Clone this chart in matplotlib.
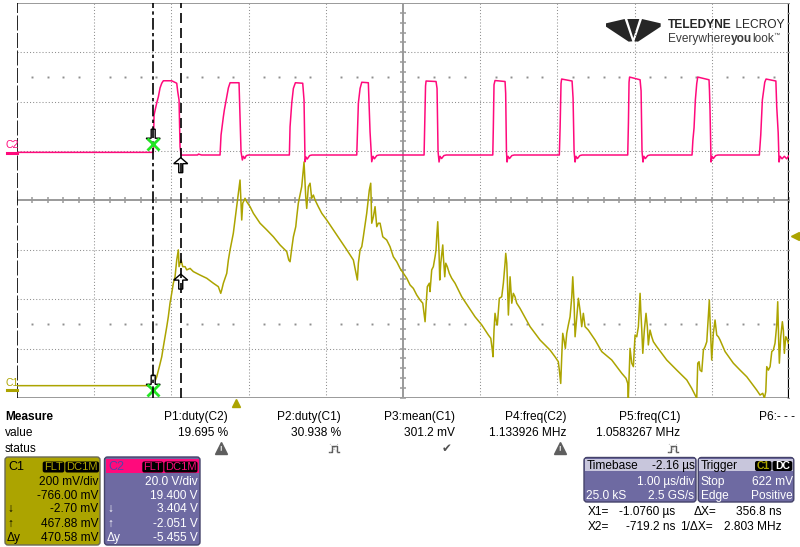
import numpy as np
import matplotlib
matplotlib.use("Agg")
import matplotlib.pyplot as plt
from matplotlib import transforms
from matplotlib.patches import Polygon, FancyBboxPatch, Rectangle
from matplotlib.lines import Line2D

plt.rcParams['font.family'] = ['Liberation Sans', 'DejaVu Sans']

# scope settings
t_div = 1.0          # us/div
t_delay = -2.16      # us
c1_vdiv, c1_offset = 0.2, -0.766
c2_vdiv, c2_offset = 20.0, 19.4
trig_level = 0.622
x1_cur, x2_cur = -1.0760, -0.7192
c1_x1, c1_x2 = -0.00270, 0.46788
c2_x1, c2_x2 = 3.404, -2.051

# C2 (pink) - time us, volts
c2_t = [-2.84, -1.078, -1.074, -1.065, -1.030, -1.009, -0.987, -0.965, -0.944, -0.836, -0.771, -0.758,
        -0.741, -0.728, -0.715, -0.50, -0.49, -0.45,
        -0.210, -0.197, -0.167, -0.154, -0.123, -0.102, -0.080, 0.036, 0.049, 0.062, 0.079, 0.092, 0.11, 0.13, 0.16,
        0.688, 0.697, 0.719, 0.740, 0.766, 0.861, 0.878, 0.891, 0.904, 0.92, 0.95, 0.98,
        1.561, 1.570, 1.582, 1.604, 1.626, 1.711, 1.733, 1.755, 1.772, 1.79, 1.82, 1.85,
        2.433, 2.440, 2.452, 2.459, 2.588, 2.601, 2.614, 2.627, 2.640, 2.66, 2.69, 2.72,
        3.323, 3.330, 3.339, 3.352, 3.482, 3.490, 3.500, 3.508, 3.52, 3.54, 3.57, 3.60,
        4.185, 4.195, 4.207, 4.215, 4.350, 4.363, 4.376, 4.389, 4.40, 4.42, 4.45, 4.48,
        5.071, 5.080, 5.088, 5.095, 5.231, 5.244, 5.256, 5.269, 5.28, 5.30, 5.33, 5.36,
        5.904, 5.915, 5.930, 5.947, 5.965, 5.978, 6.124, 6.130, 6.137, 6.150, 6.163, 6.18, 6.21, 6.24,
        6.776, 6.794, 6.815, 6.846, 6.863, 6.99, 7.001, 7.020, 7.031, 7.044, 7.07, 7.10, 7.13, 7.161]
c2_v = [0.1, 0.1, 0.4, 15.2, 20.1, 22.6, 26.2, 28.1, 29.1, 29.1, 28.1, 24.7,
        21.3, 2.4, -1.0, -0.97, -0.6, -0.97,
        -0.97, 7.1, 14.5, 17.3, 22.6, 26.2, 28.3, 28.3, 14.5, 0.36, -3.0, -1.5, -2.4, -1.2, -0.97,
        -0.97, 10.5, 20.1, 26.0, 28.3, 28.1, 21.3, -3.7, -1.8, -2.6, -1.2, -0.97,
        -0.97, 8.5, 20.1, 26.0, 28.5, 28.3, 8.5, -3.7, -1.5, -2.5, -1.2, -0.97,
        -0.97, 10.0, 27.0, 29.0, 28.8, 26.0, 0.5, -3.8, -1.5, -2.4, -1.2, -0.97,
        -0.97, 10.0, 27.5, 29.2, 28.8, 24.0, 0.5, -3.8, -1.5, -2.4, -1.2, -0.97,
        -0.97, 10.0, 28.0, 29.8, 29.0, 22.0, 0.5, -3.8, -1.5, -2.4, -1.2, -0.97,
        -0.97, 12.0, 28.5, 30.6, 29.5, 25.0, 0.5, -3.8, -1.5, -2.4, -1.2, -0.97,
        -0.97, 5.0, 10.0, 21.3, 28.0, 30.6, 29.5, 25.0, 17.3, -3.8, -1.5, -2.4, -1.2, -0.97,
        -0.97, 7.1, 21.3, 28.5, 29.8, 29.0, 18.6, 8.0, -3.8, -1.5, -2.5, -1.5, -2.5, -1.2]

# C1 (olive) - time us, volts
c1_t = [-2.84, -1.074, -1.030, -0.996, -0.965, -0.944, -0.922, -0.900, -0.880, -0.858, -0.836, -0.815,
        -0.793, -0.771, -0.750, -0.741, -0.728, -0.715, -0.693, -0.663, -0.641, -0.598, -0.556, -0.469,
        -0.382, -0.297, -0.232, -0.201, -0.188, -0.167, -0.123, -0.102, -0.080, -0.038, 0.006, 0.027,
        0.049, 0.071, 0.084, 0.114, 0.136, 0.179, 0.222, 0.308, 0.395, 0.481, 0.567, 0.654,
        0.680, 0.697, 0.719, 0.740, 0.771, 0.784, 0.804, 0.848, 0.878, 0.900, 0.913, 0.934,
        0.956, 0.977, 0.999, 1.021, 1.063, 1.108, 1.172, 1.258, 1.345, 1.432, 1.517, 1.552,
        1.569, 1.582, 1.604, 1.626, 1.646, 1.690, 1.724, 1.742, 1.755, 1.776, 1.798, 1.820,
        1.841, 1.863, 1.898, 1.949, 1.992, 2.035, 2.079, 2.122, 2.165, 2.209, 2.251, 2.294,
        2.338, 2.381, 2.416, 2.433, 2.446, 2.459, 2.475, 2.501, 2.510, 2.532, 2.553, 2.575,
        2.588, 2.597, 2.610, 2.627, 2.636, 2.649, 2.675, 2.683, 2.701, 2.714, 2.734, 2.760,
        2.791, 2.834, 2.921, 3.006, 3.093, 3.180, 3.266, 3.297, 3.317, 3.326, 3.339, 3.352,
        3.374, 3.382, 3.408, 3.439, 3.460, 3.482, 3.491, 3.504, 3.512, 3.525, 3.547, 3.569,
        3.589, 3.611, 3.633, 3.676, 3.806, 3.935, 4.065, 4.129, 4.172, 4.185, 4.203, 4.216,
        4.229, 4.246, 4.263, 4.281, 4.302, 4.324, 4.346, 4.359, 4.376, 4.389, 4.411, 4.432,
        4.453, 4.475, 4.496, 4.518, 4.561, 4.648, 4.734, 4.864, 4.994, 5.049, 5.071, 5.079,
        5.101, 5.123, 5.144, 5.166, 5.188, 5.209, 5.231, 5.240, 5.253, 5.266, 5.286, 5.308,
        5.325, 5.338, 5.360, 5.382, 5.403, 5.447, 5.576, 5.706, 5.836, 5.900, 5.943, 5.965,
        5.978, 5.995, 6.008, 6.030, 6.051, 6.073, 6.095, 6.115, 6.128, 6.137, 6.146, 6.159,
        6.180, 6.202, 6.224, 6.245, 6.267, 6.332, 6.439, 6.526, 6.613, 6.742, 6.785, 6.820,
        6.841, 6.859, 6.872, 6.893, 6.915, 6.937, 6.957, 6.979, 7.001, 7.014, 7.027, 7.035,
        7.053, 7.074, 7.087, 7.100, 7.118, 7.131, 7.152]
c1_v = [0.016, 0.016, 0.052, 0.093, 0.133, 0.174, 0.214, 0.255, 0.295, 0.350, 0.390, 0.431,
        0.457, 0.525, 0.566, 0.498, 0.512, 0.525, 0.498, 0.498, 0.485, 0.491, 0.478, 0.464,
        0.451, 0.431, 0.417, 0.390, 0.404, 0.431, 0.471, 0.525, 0.566, 0.633, 0.741, 0.795,
        0.849, 0.687, 0.755, 0.775, 0.761, 0.741, 0.714, 0.674, 0.647, 0.619, 0.586, 0.559,
        0.525, 0.518, 0.572, 0.619, 0.660, 0.700, 0.755, 0.822, 0.922, 0.781, 0.734, 0.822,
        0.836, 0.775, 0.788, 0.768, 0.741, 0.714, 0.687, 0.647, 0.606, 0.566, 0.525, 0.471,
        0.444, 0.512, 0.566, 0.579, 0.619, 0.714, 0.809, 0.836, 0.674, 0.700, 0.741, 0.660,
        0.674, 0.674, 0.619, 0.606, 0.579, 0.538, 0.518, 0.491, 0.471, 0.451, 0.424, 0.410,
        0.383, 0.363, 0.350, 0.309, 0.275, 0.343, 0.417, 0.431, 0.397, 0.485, 0.498, 0.538,
        0.566, 0.619, 0.680, 0.552, 0.444, 0.512, 0.586, 0.538, 0.457, 0.512, 0.498, 0.471,
        0.451, 0.431, 0.376, 0.336, 0.295, 0.262, 0.221, 0.208, 0.160, 0.133, 0.241, 0.309,
        0.269, 0.262, 0.370, 0.376, 0.431, 0.512, 0.552, 0.512, 0.444, 0.302, 0.457, 0.350,
        0.390, 0.376, 0.350, 0.329, 0.255, 0.201, 0.160, 0.133, 0.113, 0.079, 0.025, 0.133,
        0.228, 0.201, 0.167, 0.228, 0.262, 0.295, 0.376, 0.457, 0.350, 0.214, 0.295, 0.370,
        0.322, 0.255, 0.309, 0.255, 0.241, 0.201, 0.154, 0.120, 0.066, 0.046, 0.025, -0.035,
        0.167, 0.107, 0.093, 0.221, 0.214, 0.255, 0.390, 0.322, 0.241, 0.147, 0.241, 0.309,
        0.255, 0.181, 0.241, 0.214, 0.194, 0.174, 0.120, 0.079, 0.039, 0.005, -0.022, -0.035,
        0.107, 0.113, 0.079, 0.073, 0.160, 0.174, 0.194, 0.295, 0.363, 0.282, 0.214, 0.120,
        0.228, 0.282, 0.221, 0.214, 0.201, 0.154, 0.107, 0.079, 0.052, -0.002, -0.022, -0.015,
        -0.035, -0.009, 0.093, 0.079, 0.093, 0.154, 0.160, 0.188, 0.262, 0.356, 0.188, 0.107,
        0.214, 0.275, 0.241, 0.147, 0.214, 0.208, 0.188]

measure_names = ['P1:duty(C2)', 'P2:duty(C1)', 'P3:mean(C1)', 'P4:freq(C2)', 'P5:freq(C1)', 'P6:- - -']
measure_values = ['19.695 %', '30.938 %', '301.2 mV', '1.133926 MHz', '1.0583267 MHz', '']
measure_status = ['warn', 'pulse', 'ok', 'warn', 'pulse', '']
c1_rows = ['200 mV/div', '-766.00 mV', '-2.70 mV', '467.88 mV', '470.58 mV']
c2_rows = ['20.0 V/div', '19.400 V', '3.404 V', '-2.051 V', '-5.455 V']

PINK = '#ff0a7c'
OLIVE = '#aca400'
PURPLE = '#6e6aa2'
GRID = '#8f8f8f'
W, H = 800, 547

fig = plt.figure(figsize=(W / 100, H / 100), dpi=100)
renderer = fig.canvas.get_renderer()
ax1 = fig.add_axes([17 / W, 1 - 398 / H, 772 / W, 395 / H])
ax2 = ax1.twinx()
for a in (ax1, ax2):
    a.set_axis_off()

t_center = -t_delay
x0, x1 = t_center - 5 * t_div, t_center + 5 * t_div
c1_lo, c1_hi = -c1_offset - 4 * c1_vdiv, -c1_offset + 4 * c1_vdiv
c2_lo, c2_hi = -c2_offset - 4 * c2_vdiv, -c2_offset + 4 * c2_vdiv

# grid
xs = x0 + np.arange(11) * t_div
ys = c1_lo + np.arange(9) * c1_vdiv
for i in range(1, 10):
    if i != 5:
        ax1.axvline(xs[i], color=GRID, lw=0.75, ls=(0, (1, 2)), zorder=1)
for j in range(1, 8):
    if j != 4:
        ax1.axhline(ys[j], color=GRID, lw=0.75, ls=(0, (1, 2)), zorder=1)
for yy in (ys[0], ys[4], ys[8]):
    ax1.axhline(yy, color='#9a9a9a', lw=1.4, zorder=1)
ax1.axvline(xs[5], color='#9a9a9a', lw=1.4, zorder=1)
fine_x = x0 + np.arange(51) * t_div / 5
fine_y = c1_lo + np.arange(41) * c1_vdiv / 5
ax1.plot(fine_x, np.full_like(fine_x, ys[4]), ls='none', marker='|', ms=4.5, mew=1.1, color='#9a9a9a', zorder=1)
ax1.plot(np.full_like(fine_y, xs[5]), fine_y, ls='none', marker='_', ms=4.5, mew=1.1, color='#9a9a9a', zorder=1)
dots_x = fine_x[np.arange(51) % 5 != 0]
for yy in (c1_lo + 6.5 * c1_vdiv, c1_lo + 1.5 * c1_vdiv):
    ax1.plot(dots_x, np.full_like(dots_x, yy), ls='none', marker='s', ms=1.4, mew=0, color=GRID, zorder=1)
ax1.axvline(x1, color='black', lw=1.6, zorder=2)
ax1.plot(np.full_like(fine_y, x1), fine_y, ls='none', marker='_', ms=3.5, mew=1.0, color='#9a9a9a', zorder=3)
ax1.axvline(x0, color='black', lw=1.2, ls=(0, (9, 1.5)), zorder=2)

# traces
ax1.plot(c1_t, c1_v, color=OLIVE, lw=1.1, zorder=3)
ax2.plot(c2_t, c2_v, color=PINK, lw=1.1, zorder=2)

ax1.set_xlim(x0, x1)
ax1.set_ylim(c1_lo, c1_hi)
ax2.set_ylim(c2_lo, c2_hi)

# cursors
ax2.axvline(x1_cur, color='black', lw=1.2, ls=(0, (7, 2, 2, 2)), zorder=5)
ax2.axvline(x2_cur, color='black', lw=1.2, ls=(0, (6, 3)), zorder=5)


def cursor_arrow(ax, x, y, up):
    pts = np.array([(0, 0), (7, 6), (2, 6), (2, 15), (-2, 15), (-2, 6), (-7, 6)], float) / 100
    if up:
        pts[:, 1] *= -1
    tr = fig.dpi_scale_trans + transforms.ScaledTranslation(x, y, ax.transData)
    ax.add_patch(Polygon(pts, closed=True, fc='white', ec='black', lw=1.0, transform=tr, zorder=4, clip_on=False))


cursor_arrow(ax1, x1_cur, c1_x1, False)
cursor_arrow(ax1, x2_cur, c1_x2, True)
cursor_arrow(ax2, x1_cur, c2_x1, False)
cursor_arrow(ax2, x2_cur, c2_x2, True)
ax1.plot([x1_cur], [c1_x1], marker='x', ms=8, mew=2, color='#22e622', zorder=6, clip_on=False)
ax2.plot([x1_cur], [c2_x1], marker='x', ms=8, mew=2, color='#22e622', zorder=6)

# channel ground markers and trigger markers
bl1 = transforms.blended_transform_factory(fig.transFigure, ax1.transData)
bl2 = transforms.blended_transform_factory(fig.transFigure, ax2.transData)
ax1.add_line(Line2D([7 / W, 17 / W], [0, 0], color=OLIVE, lw=2.2, transform=bl1, clip_on=False))
ax2.add_line(Line2D([7 / W, 17 / W], [0, 0], color=PINK, lw=2.2, transform=bl2, clip_on=False))
fig.text(5 / W, 1 - 382.5 / H, 'C1', color=OLIVE, fontsize=7.5, va='center')
fig.text(5 / W, 1 - 144.5 / H, 'C2', color=PINK, fontsize=7.5, va='center')
ax1.plot([795 / W], [trig_level], marker='<', ms=6, color=OLIVE, transform=bl1, clip_on=False, ls='none')
blx = transforms.blended_transform_factory(ax1.transData, fig.transFigure)
ax1.plot([0.0], [1 - 403 / H], marker='^', ms=6, color=OLIVE, transform=blx, clip_on=False, ls='none')


def chain(x_left, y, parts, width, size, color):
    # lay text pieces side by side and scale them to fill the given pixel width
    items = [fig.text(0, 1 - y / H, s, fontsize=size, fontweight=w, color=color, va='center') for s, w in parts]
    total = sum(t.get_window_extent(renderer).width for t in items)
    k = width / total
    x = x_left
    for t in items:
        t.set_fontsize(size * k)
        t.set_x(x / W)
        x += t.get_window_extent(renderer).width
    return x


# logo
def lp(pts):
    return [(600 + x / 3, H - (10 + y / 3)) for x, y in pts]


for shape in ([(18, 40), (74, 27), (97, 94), (86, 95), (18, 50)],
              [(82, 27), (118, 27), (100, 84)],
              [(182, 40), (126, 27), (103, 94), (114, 95), (182, 50)]):
    fig.add_artist(Polygon(lp(shape), closed=True, fc='#262626', ec='none', transform=transforms.IdentityTransform()))
chain(668, 25.5, [('TELEDYNE', 'bold'), (' LECROY', 'normal')], 117, 9.5, '#262626')
xe = chain(668, 38.5, [('Everywhere', 'normal'), ('you', 'bold'), ('look', 'normal')], 105, 8.5, '#3a3a3a')
fig.text(xe / W, 1 - 35 / H, '\u2122', fontsize=4.5, color='#3a3a3a', va='center')


def txt(x, y, s, ha='left', color='black', size=8.3, **kw):
    fig.text(x / W, 1 - y / H, s, ha=ha, va='center', color=color, fontsize=size, **kw)


def rbox(xa, ya, xb, yb, fc, ec, r=3, lw=1.0):
    fig.add_artist(FancyBboxPatch((xa, H - yb), xb - xa, yb - ya, boxstyle=f'round,pad=0,rounding_size={r}',
                                  fc=fc, ec=ec, lw=lw, transform=transforms.IdentityTransform()))


def rect(xa, ya, xb, yb, fc):
    fig.add_artist(Rectangle((xa, H - yb), xb - xa, yb - ya, fc=fc, ec='none', transform=transforms.IdentityTransform()))


# measure table
txt(5, 416.7, 'Measure', weight='bold', size=8.6)
txt(5, 432.7, 'value', size=8.6)
txt(5, 448.7, 'status', size=8.6)
col_right = [228, 341, 455, 566.7, 680, 795]
for xr, name, val, st in zip(col_right, measure_names, measure_values, measure_status):
    txt(xr, 416.7, name, ha='right', size=8.6)
    if val:
        txt(xr, 432.7, val, ha='right', size=8.6)
    xi = xr - 7
    if st == 'warn':
        fig.add_artist(Line2D([xi / W], [1 - 448.2 / H], marker='^', ms=8.5, color='#5e5e5e', ls='none'))
        txt(xi, 449.5, '!', ha='center', color='white', size=5.5, weight='bold')
    elif st == 'ok':
        txt(xi - 1.5, 448.5, '\u2714', ha='center', color='#505050', size=8.5, family='DejaVu Sans')
    elif st == 'pulse':
        px = np.array([-5, -2.5, -2.5, 2.5, 2.5, 5]) + xi
        py = np.array([3, 3, -3, -3, 3, 3]) + 448.7
        fig.add_artist(Line2D(px / W, 1 - py / H, color='#5a5a5a', lw=1.0))
        fig.add_artist(Line2D([(xi - 4) / W, (xi + 4) / W], [1 - 444 / H, 1 - 453 / H], color='#9a9a9a', lw=0.6, ls=':'))
        fig.add_artist(Line2D([(xi - 4) / W, (xi + 4) / W], [1 - 453 / H, 1 - 444 / H], color='#9a9a9a', lw=0.6, ls=':'))

# C1 box
rbox(5, 457, 100, 545, OLIVE, '#6a6a55')
txt(8, 466.7, 'C1', size=9)
rbox(42.7, 461.5, 64.3, 472.5, 'black', 'none', r=2)
rbox(65.3, 461.5, 99, 472.5, 'black', 'none', r=2)
txt(53.5, 467, 'FLT', ha='center', color=OLIVE, size=8)
txt(82.2, 467, 'DC1M', ha='center', color=OLIVE, size=8)
row_y = [481.7, 495.7, 508.7, 524, 537.7]
for yy, s in zip(row_y, c1_rows):
    txt(98.5, yy, s, ha='right', size=8.6)
for yy, s in zip(row_y[2:], ['\u2193', '\u2191', '\u0394y']):
    txt(7, yy, s, size=8.6)

# C2 box
rbox(104.5, 457, 200, 545, PURPLE, '#45436a')
rect(105.5, 458.5, 199.2, 473, PINK)
txt(108, 466.7, 'C2', size=9, color='#5046a8')
rbox(142.3, 461.5, 163.3, 472.5, 'black', 'none', r=2)
rbox(164.3, 461.5, 197.5, 472.5, 'black', 'none', r=2)
txt(152.8, 467, 'FLT', ha='center', color=PINK, size=8)
txt(181, 467, 'DC1M', ha='center', color=PINK, size=8)
for yy, s in zip(row_y, c2_rows):
    txt(197.5, yy, s, ha='right', color='white', size=8.6)
for yy, s in zip(row_y[2:], ['\u2193', '\u2191', '\u0394y']):
    txt(107, yy, s, color='white', size=8.6)

# timebase box
rbox(584, 457.5, 696, 502, PURPLE, '#45436a')
rect(585, 458.5, 695, 470.5, '#c8c6dc')
txt(586.5, 466, 'Timebase', size=8.6)
txt(694.5, 466, '-2.16 \u00b5s', ha='right', size=8.6)
txt(694.5, 481.7, '1.00 \u00b5s/div', ha='right', color='white', size=8.6)
txt(586.5, 496, '25.0 kS', color='white', size=8.6)
txt(694.5, 496, '2.5 GS/s', ha='right', color='white', size=8.6)

# trigger box
rbox(698.3, 457.5, 793.8, 502, PURPLE, '#45436a')
rect(699.3, 458.5, 792.8, 470.5, '#c8c6dc')
txt(700.5, 466, 'Trigger', size=8.6)
rbox(755, 461, 771.5, 471, 'black', 'none', r=2)
rbox(772.5, 461, 792.3, 471, 'black', 'none', r=2)
txt(763.2, 466.2, 'C1', ha='center', color=OLIVE, size=7.5, weight='bold')
txt(782.4, 466.2, 'DC', ha='center', color='white', size=7.5, weight='bold')
txt(700.5, 481.7, 'Stop', color='white', size=8.6)
txt(792.5, 481.7, '622 mV', ha='right', color='white', size=8.6)
txt(700.5, 496, 'Edge', color='white', size=8.6)
txt(792.5, 496, 'Positive', ha='right', color='white', size=8.6)

# cursor readouts
txt(587.3, 511.7, 'X1=', size=8.6)
txt(675, 511.7, '-1.0760 \u00b5s', ha='right', size=8.6)
txt(693.3, 511.7, '\u0394X=', size=8.6)
txt(781.7, 511.7, '356.8 ns', ha='right', size=8.6)
txt(587.3, 526.7, 'X2=', size=8.6)
txt(675, 526.7, '-719.2 ns', ha='right', size=8.6)
txt(680, 526.7, '1/\u0394X=', size=8.6)
txt(781.7, 526.7, '2.803 MHz', ha='right', size=8.6)

fig.savefig('out.png', dpi=100, facecolor='white')
